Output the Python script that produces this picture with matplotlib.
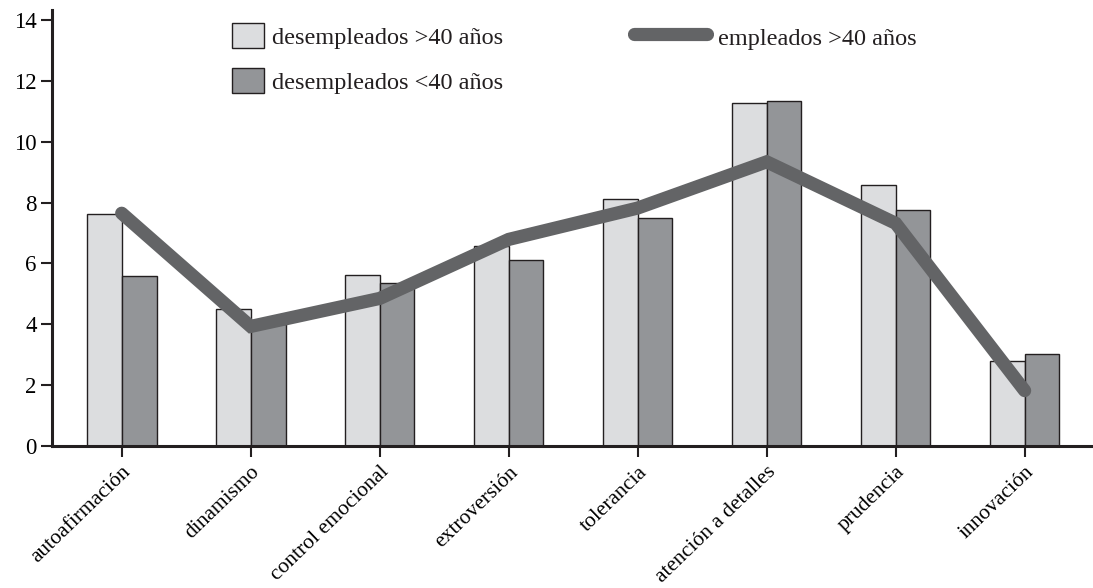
import matplotlib
matplotlib.use('Agg')
import matplotlib.pyplot as plt
import numpy as np
from matplotlib.patches import Patch
from matplotlib.lines import Line2D
from matplotlib import rcParams

rcParams['font.family'] = 'Liberation Serif'
rcParams['font.size'] = 15
rcParams['text.color'] = '#231f20'

categorias = ["autoafirmación", "dinamismo", "control emocional", "extroversión",
              "tolerancia", "atención a detalles", "prudencia", "innovación"]
desempleados_mas40 = [7.61, 4.49, 5.63, 6.58, 8.11, 11.28, 8.57, 2.79]
desempleados_menos40 = [5.58, 4.0, 5.35, 6.11, 7.48, 11.35, 7.77, 3.01]
empleados_mas40 = [7.65, 3.93, 4.85, 6.79, 7.82, 9.34, 7.32, 1.82]

c_light = '#dcdddf'
c_dark = '#939598'
c_line = '#636466'
c_edge = '#231f20'

fig = plt.figure(figsize=(10.93, 5.88), dpi=100)
ax = fig.add_axes([0.0476, 0.2415, 0.9524, 0.7415])

x = np.arange(len(categorias))
w = 0.27
ax.bar(x, desempleados_mas40, width=-w, align='edge', color=c_light,
       edgecolor=c_edge, linewidth=1.0, zorder=2)
ax.bar(x, desempleados_menos40, width=w, align='edge', color=c_dark,
       edgecolor=c_edge, linewidth=1.0, zorder=2)
ax.plot(x, empleados_mas40, color=c_line, linewidth=9.5,
        solid_capstyle='round', solid_joinstyle='miter', zorder=3)

ax.set_xlim(-0.54, 7.53)
ax.set_ylim(0, 14.33)
ax.set_yticks(range(0, 15, 2))
ax.set_xticks(x)
ax.set_xticklabels(categorias, rotation=44, ha='right', va='top',
                   rotation_mode='anchor', fontsize=15.5)

for s in ['top', 'right']:
    ax.spines[s].set_visible(False)
for s in ['left', 'bottom']:
    ax.spines[s].set_linewidth(2.2)
    ax.spines[s].set_color(c_edge)
ax.tick_params(axis='both', length=8, width=1.5, color=c_edge)
ax.tick_params(axis='y', labelsize=16.5, pad=3)
ax.tick_params(axis='x', pad=4)

# legends
h1 = Patch(facecolor=c_light, edgecolor=c_edge, linewidth=1.0)
h2 = Patch(facecolor=c_dark, edgecolor=c_edge, linewidth=1.0)
leg1 = ax.legend([h1, h2], ["desempleados >40 años", "desempleados <40 años"],
                 loc='upper left', bbox_to_anchor=(0.167, 0.985), frameon=False,
                 handlelength=1.3, handleheight=1.25, handletextpad=0.33,
                 labelspacing=0.78, borderpad=0.25, borderaxespad=0, fontsize=17.5)
ax.add_artist(leg1)
h3 = Line2D([0], [0], color=c_line, linewidth=9.5, solid_capstyle='round')
ax.legend([h3], ["empleados >40 años"], loc='upper left',
          bbox_to_anchor=(0.553, 0.982), frameon=False, handlelength=3.0,
          handleheight=1.25, handletextpad=0.45, borderpad=0.25,
          borderaxespad=0, fontsize=17.5)

fig.savefig('out.png', dpi=100)
